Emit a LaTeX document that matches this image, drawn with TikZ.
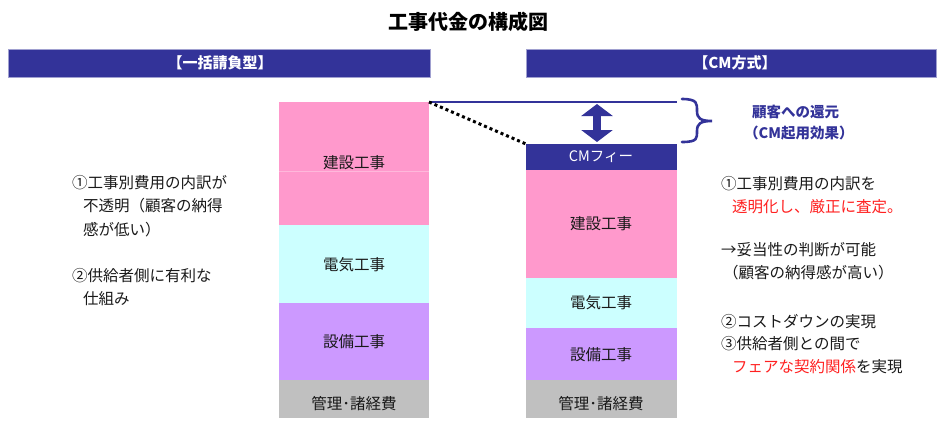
\documentclass[tikz,border=0pt]{standalone}
\usepackage{fontspec}
\setmainfont{Noto Sans CJK JP}
\usetikzlibrary{arrows.meta}
\definecolor{hdblue}{HTML}{333399}
\definecolor{hdedge}{HTML}{A0A0D0}
\definecolor{cpink}{HTML}{FF99CC}
\definecolor{ccyan}{HTML}{CCFFFF}
\definecolor{cpurp}{HTML}{CC99FF}
\definecolor{cgray}{HTML}{C0C0C0}
\definecolor{cred}{HTML}{FF2020}
\begin{document}
\begin{tikzpicture}[x=1pt,y=-1pt,
  header/.style={fill=hdblue,draw=hdedge,line width=0.8pt},
  hdtext/.style={text=white,font=\fontsize{15}{15}\selectfont\bfseries},
  lbl/.style={font=\fontsize{15.5}{16}\selectfont,text=black!90},
  note/.style={font=\fontsize{15.5}{16}\selectfont,text=black!90,anchor=west,inner sep=0pt}]
\useasboundingbox (0,0) rectangle (937,421);
% title
\node[font=\fontsize{20}{20}\selectfont\bfseries] (title) at (468,22) {工事代金の構成図};
% headers
\path[header] (8,49) rectangle (430,77);
\node[hdtext] (hl) at (220,63) {【一括請負型】};
\path[header] (526,49) rectangle (936,77);
\node[hdtext] (hr) at (735,63) {【CM方式】};
% left column
\fill[cpink] (279,102) rectangle (429,225);
\draw[white!30!cpink,line width=0.5pt] (279,171) -- (429,171);
\fill[ccyan] (279,225) rectangle (429,303);
\fill[cpurp] (279,303) rectangle (429,380);
\fill[cgray] (279,380) rectangle (429,418);
\node[lbl] (l1) at (354,163) {建設工事};
\node[lbl] (l2) at (354,265) {電気工事};
\node[lbl] (l3) at (354,342) {設備工事};
\node[lbl] (l4) at (354,404) {管理･諸経費};
% right column
\fill[hdblue] (526,144) rectangle (677,170);
\fill[cpink] (526,170) rectangle (677,278);
\fill[ccyan] (526,278) rectangle (677,328);
\fill[cpurp] (526,328) rectangle (677,380);
\fill[cgray] (526,380) rectangle (677,418);
\node[lbl,text=white,font=\fontsize{14.5}{15}\selectfont] (r0) at (601,157) {CMフィー};
\node[lbl] (r1) at (601,224) {建設工事};
\node[lbl] (r2) at (601,303) {電気工事};
\node[lbl] (r3) at (601,355) {設備工事};
\node[lbl] (r4) at (601,404) {管理･諸経費};
% connectors
\coordinate (ltop) at (429,102);
\coordinate (rtop) at (677,102);
\coordinate (cmtop) at (526,144);
\draw[hdblue,line width=1.2pt] (ltop) -- (rtop);
\draw[black,line width=3pt,dash pattern=on 3pt off 3pt] (ltop) -- (cmtop);
\coordinate (aup) at (597,104);
\coordinate (adn) at (597,142);
\draw[hdblue,line width=8pt,{Triangle[width=31pt,length=12pt]}-{Triangle[width=31pt,length=12pt]}] (aup) -- (adn);
% brace
\draw[hdblue,line width=2.6pt,line cap=round]
  (682,99) .. controls (698,99) and (697,104) .. (697,111)
  .. controls (697,118) and (700,121) .. (712,121)
  .. controls (700,121) and (697,124) .. (697,131)
  .. controls (697,138) and (698,142) .. (682,142);
\node[font=\fontsize{14.5}{15}\selectfont\bfseries,text=hdblue,anchor=west,inner sep=0pt] (ret1) at (752,112) {顧客への還元};
\node[font=\fontsize{14.5}{15}\selectfont\bfseries,text=hdblue,anchor=west,inner sep=0pt] (ret2) at (744,133) {（CM起用効果）};
% left notes
\node[note] (n1) at (72,183) {①工事別費用の内訳が};
\node[note] (n2) at (83,206) {不透明（顧客の納得};
\node[note] (n3) at (83,230) {感が低い）};
\node[note] (n4) at (72,276) {②供給者側に有利な};
\node[note] (n5) at (83,299) {仕組み};
% right notes
\node[note] (m1) at (721,184) {①工事別費用の内訳を};
\node[note,text=cred] (m2) at (732,207) {透明化し、厳正に査定。};
\node[note] (m3) at (721,250) {→妥当性の判断が可能};
\node[note] (m4) at (723,273) {（顧客の納得感が高い）};
\node[note] (m5) at (721,322) {②コストダウンの実現};
\node[note] (m6) at (721,344) {③供給者側との間で};
\node[note] (m7) at (732,367) {\textcolor{cred}{フェアな契約関係}を実現};
\end{tikzpicture}
\end{document}
